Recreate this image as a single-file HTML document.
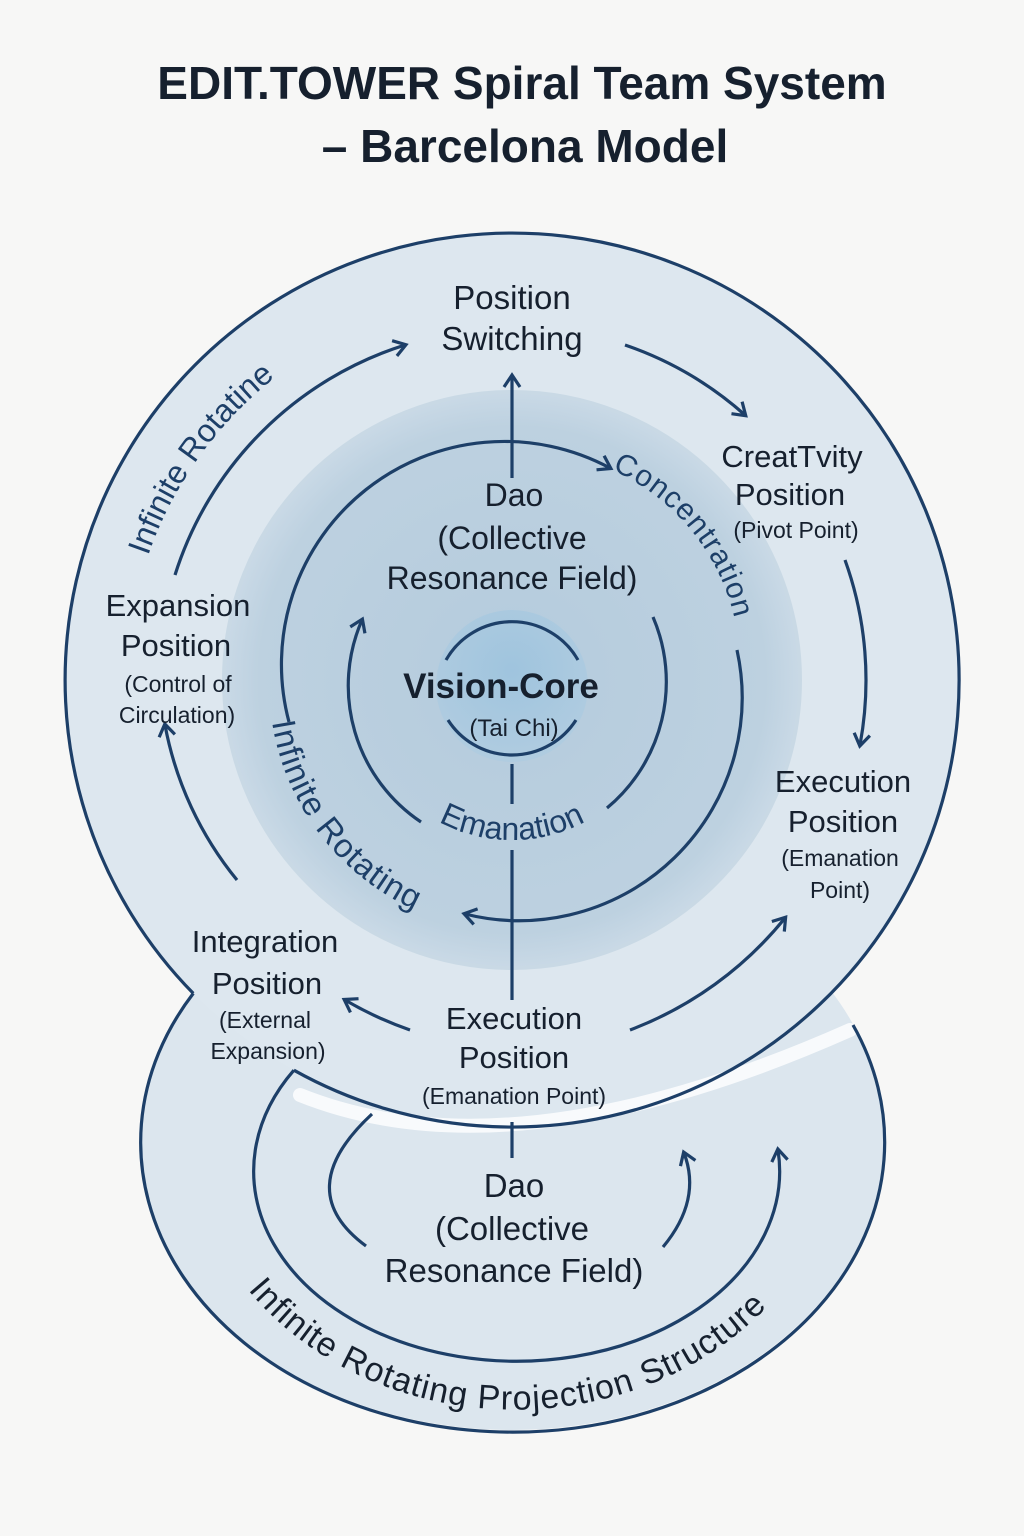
<!DOCTYPE html>
<html><head><meta charset="utf-8"><style>
html,body{margin:0;padding:0;background:#f7f7f6;}
svg{display:block;}
.t{font-family:"Liberation Sans",sans-serif;fill:#16202e;text-anchor:middle;}
.b{font-family:"Liberation Sans",sans-serif;fill:#1d3f68;}
</style></head><body>
<svg width="1024" height="1536" viewBox="0 0 1024 1536" xmlns="http://www.w3.org/2000/svg">
<defs>
<marker id="ah" viewBox="0 0 20 20" refX="14" refY="10" markerWidth="20" markerHeight="20" markerUnits="userSpaceOnUse" orient="auto">
<path d="M3,2 L15,10 L3,18" fill="none" stroke="#1d3f68" stroke-width="3.2"/>
</marker>
<radialGradient id="core" cx="50%" cy="40%" r="60%"><stop offset="0" stop-color="#9fc4de"/><stop offset="1" stop-color="#b0cce0"/></radialGradient>
<radialGradient id="disk" cx="50%" cy="50%" r="50%"><stop offset="0" stop-color="#b4cbdd"/><stop offset="0.88" stop-color="#bdd1e0"/><stop offset="1" stop-color="#c9d9e6"/></radialGradient>
<path id="pInfR" d="M 148,556 A 390,390 0 0 1 340,336"/>
<path id="pConc" d="M 612,470 A 216,216 0 0 1 740,660"/>
<path id="pInfRot" d="M 272,722 A 248,248 0 0 0 520,932"/>
<path id="pEman" d="M 376.9,762 A 156,156 0 0 0 647.1,762"/>
<path id="pProj" d="M 248,1290 A 330,290 0 0 0 790,1280"/>
</defs>
<rect width="1024" height="1536" fill="#f7f7f6"/>
<text class="t" x="522" y="99" font-size="46" font-weight="bold">EDIT.TOWER Spiral Team System</text>
<text class="t" x="525" y="162" font-size="46" font-weight="bold">– Barcelona Model</text>

<ellipse cx="512" cy="1140" rx="372" ry="290" fill="#dce6ee"/>
<circle cx="512" cy="680" r="447" fill="#dde7ef"/>
<path d="M 300,1095 Q 512,1180 850,1030" fill="none" stroke="#ffffff" stroke-width="14" opacity="0.8" stroke-linecap="round"/>
<circle cx="512" cy="680" r="288" fill="url(#disk)" stroke="#c9d9e5" stroke-width="4"/>
<circle cx="512" cy="686" r="76" fill="url(#core)"/>

<g fill="none" stroke="#1d3f68" stroke-width="3.2">
<path d="M 193.3,993.4 A 447,447 0 1 1 293.9,1070.2"/>
<path d="M 193.3,993.4 A 372,290 0 1 0 853,1025"/>
<path d="M 293.9,1070.2 A 263,190 0 1 0 778,1150" marker-end="url(#ah)"/>
<path d="M 372,1114 Q 290,1190 366,1246"/>
<path d="M 663,1247 Q 702,1200 684,1153" marker-end="url(#ah)"/>
<line x1="512" y1="1122" x2="512" y2="1158"/>
<path d="M 175,575 A 352,352 0 0 1 405,345" marker-end="url(#ah)"/>
<path d="M 625,345 A 352,352 0 0 1 745,415" marker-end="url(#ah)"/>
<path d="M 845,560 A 354,354 0 0 1 860,745" marker-end="url(#ah)"/>
<path d="M 630,1030 A 365,365 0 0 0 785,918" marker-end="url(#ah)"/>
<path d="M 410,1030 A 365,365 0 0 1 345,1000" marker-end="url(#ah)"/>
<path d="M 237,880 A 345,345 0 0 1 165,725" marker-end="url(#ah)"/>
<path d="M 289,722 A 223,223 0 0 1 610,468" marker-end="url(#ah)"/>
<path d="M 737,650 A 223,223 0 0 1 465,914" marker-end="url(#ah)"/>
<path d="M 421,822 A 164,164 0 0 1 362,620" marker-end="url(#ah)"/>
<path d="M 653,617 A 164,164 0 0 1 607,808"/>
<path d="M 446,660 A 76,76 0 0 1 578,660"/>
<path d="M 448,720 A 76,76 0 0 0 576,720"/>
<line x1="512" y1="478" x2="512" y2="376" marker-end="url(#ah)"/>
<line x1="512" y1="764" x2="512" y2="804"/>
<line x1="512" y1="850" x2="512" y2="1000"/>
</g>

<text class="t" font-size="33"><tspan x="512" y="309">Position</tspan><tspan x="512" y="350">Switching</tspan></text>
<text class="t" font-size="31"><tspan x="792" y="467">CreatTvity</tspan><tspan x="790" y="505">Position</tspan></text>
<text class="t" font-size="23" x="796" y="538">(Pivot Point)</text>
<text class="t" font-size="31"><tspan x="178" y="616">Expansion</tspan><tspan x="176" y="656">Position</tspan></text>
<text class="t" font-size="23"><tspan x="178" y="692">(Control of</tspan><tspan x="177" y="723">Circulation)</tspan></text>
<text class="t" font-size="31"><tspan x="843" y="792">Execution</tspan><tspan x="843" y="832">Position</tspan></text>
<text class="t" font-size="23"><tspan x="840" y="866">(Emanation</tspan><tspan x="840" y="898">Point)</tspan></text>
<text class="t" font-size="31"><tspan x="265" y="952">Integration</tspan><tspan x="267" y="994">Position</tspan></text>
<text class="t" font-size="23"><tspan x="265" y="1028">(External</tspan><tspan x="268" y="1059">Expansion)</tspan></text>
<text class="t" font-size="31"><tspan x="514" y="1029">Execution</tspan><tspan x="514" y="1068">Position</tspan></text>
<text class="t" font-size="23" x="514" y="1104">(Emanation Point)</text>
<text class="t" font-size="32"><tspan x="514" y="506">Dao</tspan><tspan x="512" y="549">(Collective</tspan><tspan x="512" y="589">Resonance Field)</tspan></text>
<text class="t" font-size="35" font-weight="bold" x="501" y="698">Vision-Core</text>
<text class="t" font-size="24" x="514" y="736">(Tai Chi)</text>
<text class="t" font-size="33"><tspan x="514" y="1197">Dao</tspan><tspan x="512" y="1240">(Collective</tspan><tspan x="514" y="1282">Resonance Field)</tspan></text>

<text class="b" font-size="32"><textPath href="#pInfR">Infinite Rotatine</textPath></text>
<text class="b" font-size="30" letter-spacing="1"><textPath href="#pConc">Concentration</textPath></text>
<text class="b" font-size="33" letter-spacing="1"><textPath href="#pInfRot">Infinite Rotating</textPath></text>
<text class="b" font-size="32"><textPath href="#pEman" startOffset="50%" text-anchor="middle">Emanation</textPath></text>
<text class="t" font-size="34" letter-spacing="1" style="text-anchor:start"><textPath href="#pProj" startOffset="0">Infinite Rotating Projection Structure</textPath></text>
</svg>
</body></html>
